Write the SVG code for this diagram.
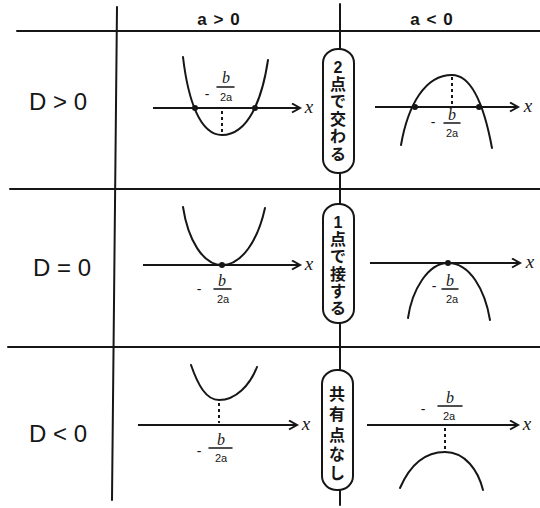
<svg xmlns="http://www.w3.org/2000/svg" width="540" height="508" viewBox="0 0 540 508">
<style>
.ln{stroke:#161616;stroke-width:2;fill:none;stroke-linecap:round}
.cv{stroke:#161616;stroke-width:2;fill:none;stroke-linecap:round}
.ax{stroke:#161616;stroke-width:2;fill:none;marker-end:url(#arr)}
.da{stroke:#161616;stroke-width:2;stroke-dasharray:3 3;fill:none}
.dot{fill:#161616}
.pill{fill:#fff;stroke:#161616;stroke-width:2}
.hd{font-family:"Liberation Sans",sans-serif;font-weight:bold;font-size:17px;fill:#161616;text-anchor:middle;letter-spacing:1px}
.rw{font-family:"Liberation Sans",sans-serif;font-size:24px;fill:#161616;text-anchor:middle}
.jp{font-family:"Liberation Sans","Noto Sans CJK JP",sans-serif;font-weight:bold;font-size:16px;fill:#161616;text-anchor:middle}
.xl{font-family:"Liberation Serif",serif;font-style:italic;font-size:19px;fill:#161616;text-anchor:middle}
.bn{font-family:"Liberation Serif",serif;font-style:italic;font-size:16px;fill:#161616;text-anchor:middle}
.dn{font-family:"Liberation Sans",sans-serif;font-size:11px;fill:#161616;text-anchor:middle}
.mi{font-family:"Liberation Sans",sans-serif;font-size:14px;fill:#161616;text-anchor:middle}
</style>
<defs>
<marker id="arr" markerWidth="12" markerHeight="12" refX="9" refY="5" orient="auto" markerUnits="userSpaceOnUse">
<path d="M1,0.5 L9,5 L1,9.5" fill="none" stroke="#161616" stroke-width="2"/>
</marker>
</defs>
<rect width="540" height="508" fill="#fff"/>
<g id="grid">
<line class="ln" x1="17" y1="31" x2="540" y2="31"/>
<line class="ln" x1="10" y1="189" x2="540" y2="189"/>
<line class="ln" x1="8" y1="347" x2="540" y2="347"/>
<line class="ln" x1="117" y1="7" x2="112" y2="500"/>
</g>
<g id="connectors">
<line class="ln" x1="340" y1="4" x2="340" y2="49"/>
<line class="ln" x1="340" y1="173" x2="340" y2="204"/>
<line class="ln" x1="340" y1="323" x2="340" y2="370"/>
<line class="ln" x1="340" y1="490" x2="340" y2="505"/>
</g>
<g id="headers">
<text class="hd" x="219" y="25">a &gt; 0</text>
<text class="hd" x="432" y="25">a &lt; 0</text>
</g>
<g id="rows">
<text class="rw" x="58" y="110">D &gt; 0</text>
<text class="rw" x="62" y="276">D = 0</text>
<text class="rw" x="58" y="442">D &lt; 0</text>
</g>
<g id="node-cross">
<rect class="pill" x="323" y="49" width="31" height="124" rx="15" ry="14"/>
<text class="jp" x="338" y="73">2</text>
<text class="jp" x="338" y="90">点</text>
<text class="jp" x="338" y="107">で</text>
<text class="jp" x="338" y="125">交</text>
<text class="jp" x="338" y="142">わ</text>
<text class="jp" x="338" y="160">る</text>
</g>
<g id="node-touch">
<rect class="pill" x="323" y="204" width="31" height="119" rx="15" ry="14"/>
<text class="jp" x="338" y="228">1</text>
<text class="jp" x="338" y="245">点</text>
<text class="jp" x="338" y="262">で</text>
<text class="jp" x="338" y="280">接</text>
<text class="jp" x="338" y="297">す</text>
<text class="jp" x="338" y="314">る</text>
</g>
<g id="node-none">
<rect class="pill" x="322" y="370" width="31" height="120" rx="15" ry="14"/>
<text class="jp" x="337" y="400">共</text>
<text class="jp" x="337" y="420">有</text>
<text class="jp" x="337" y="441">点</text>
<text class="jp" x="337" y="460">な</text>
<text class="jp" x="337" y="479">し</text>
</g>
<g id="graph-pos-d-pos">
<line class="ax" x1="153" y1="108" x2="300" y2="108"/>
<text class="xl" x="309" y="113">x</text>
<path class="cv" d="M183,57 C188,100 200,135 222,135 C248,135 262,100 268,60"/>
<line class="da" x1="222" y1="111" x2="222" y2="134"/>
<circle class="dot" cx="195" cy="108" r="3"/>
<circle class="dot" cx="255" cy="108" r="3"/>
<text class="mi" x="207" y="99">-</text>
<text class="bn" x="226" y="83">b</text>
<line class="ln" x1="217" y1="87" x2="234" y2="87" style="stroke-width:1.5"/>
<text class="dn" x="226" y="101">2a</text>
</g>
<g id="graph-neg-d-pos">
<line class="ax" x1="375" y1="107" x2="518" y2="107"/>
<text class="xl" x="528" y="112">x</text>
<path class="cv" d="M401,145 C408,105 425,75 452,75 C472,75 484,105 492,148"/>
<line class="da" x1="452" y1="77" x2="452" y2="104"/>
<circle class="dot" cx="415" cy="107" r="3"/>
<circle class="dot" cx="479" cy="107" r="3"/>
<text class="mi" x="433" y="127">-</text>
<text class="bn" x="452" y="120">b</text>
<line class="ln" x1="444" y1="123" x2="460" y2="123" style="stroke-width:1.5"/>
<text class="dn" x="452" y="137">2a</text>
</g>
<g id="graph-pos-d-zero">
<line class="ax" x1="143" y1="265" x2="300" y2="265"/>
<text class="xl" x="309" y="270">x</text>
<path class="cv" d="M183,207 C188,240 203,265 222,265 C242,265 258,240 265,208"/>
<circle class="dot" cx="222" cy="265" r="3"/>
<text class="mi" x="199" y="294">-</text>
<text class="bn" x="222" y="286">b</text>
<line class="ln" x1="214" y1="289" x2="231" y2="289" style="stroke-width:1.5"/>
<text class="dn" x="223" y="303">2a</text>
</g>
<g id="graph-neg-d-zero">
<line class="ax" x1="370" y1="263" x2="520" y2="263"/>
<text class="xl" x="530" y="268">x</text>
<path class="cv" d="M408,318 C412,290 428,263 448,263 C470,263 485,290 490,320"/>
<circle class="dot" cx="448" cy="263" r="3"/>
<text class="mi" x="434" y="291">-</text>
<text class="bn" x="450" y="286">b</text>
<line class="ln" x1="442" y1="289" x2="458" y2="289" style="stroke-width:1.5"/>
<text class="dn" x="452" y="303">2a</text>
</g>
<g id="graph-pos-d-neg">
<line class="ax" x1="138" y1="425" x2="297" y2="425"/>
<text class="xl" x="306" y="430">x</text>
<path class="cv" d="M191,365 C198,385 206,400 219,400 C236,400 250,385 257,367"/>
<line class="da" x1="219" y1="403" x2="219" y2="423"/>
<text class="mi" x="199" y="456">-</text>
<text class="bn" x="221" y="445">b</text>
<line class="ln" x1="209" y1="448" x2="232" y2="448" style="stroke-width:1.5"/>
<text class="dn" x="221" y="462">2a</text>
</g>
<g id="graph-neg-d-neg">
<line class="ax" x1="367" y1="425" x2="518" y2="425"/>
<text class="xl" x="527" y="430">x</text>
<path class="cv" d="M400,488 C410,465 425,452 445,452 C465,452 478,470 483,490"/>
<line class="da" x1="445" y1="428" x2="445" y2="450"/>
<text class="mi" x="423" y="414">-</text>
<text class="bn" x="450" y="403">b</text>
<line class="ln" x1="438" y1="406" x2="462" y2="406" style="stroke-width:1.5"/>
<text class="dn" x="449" y="420">2a</text>
</g>
</svg>
